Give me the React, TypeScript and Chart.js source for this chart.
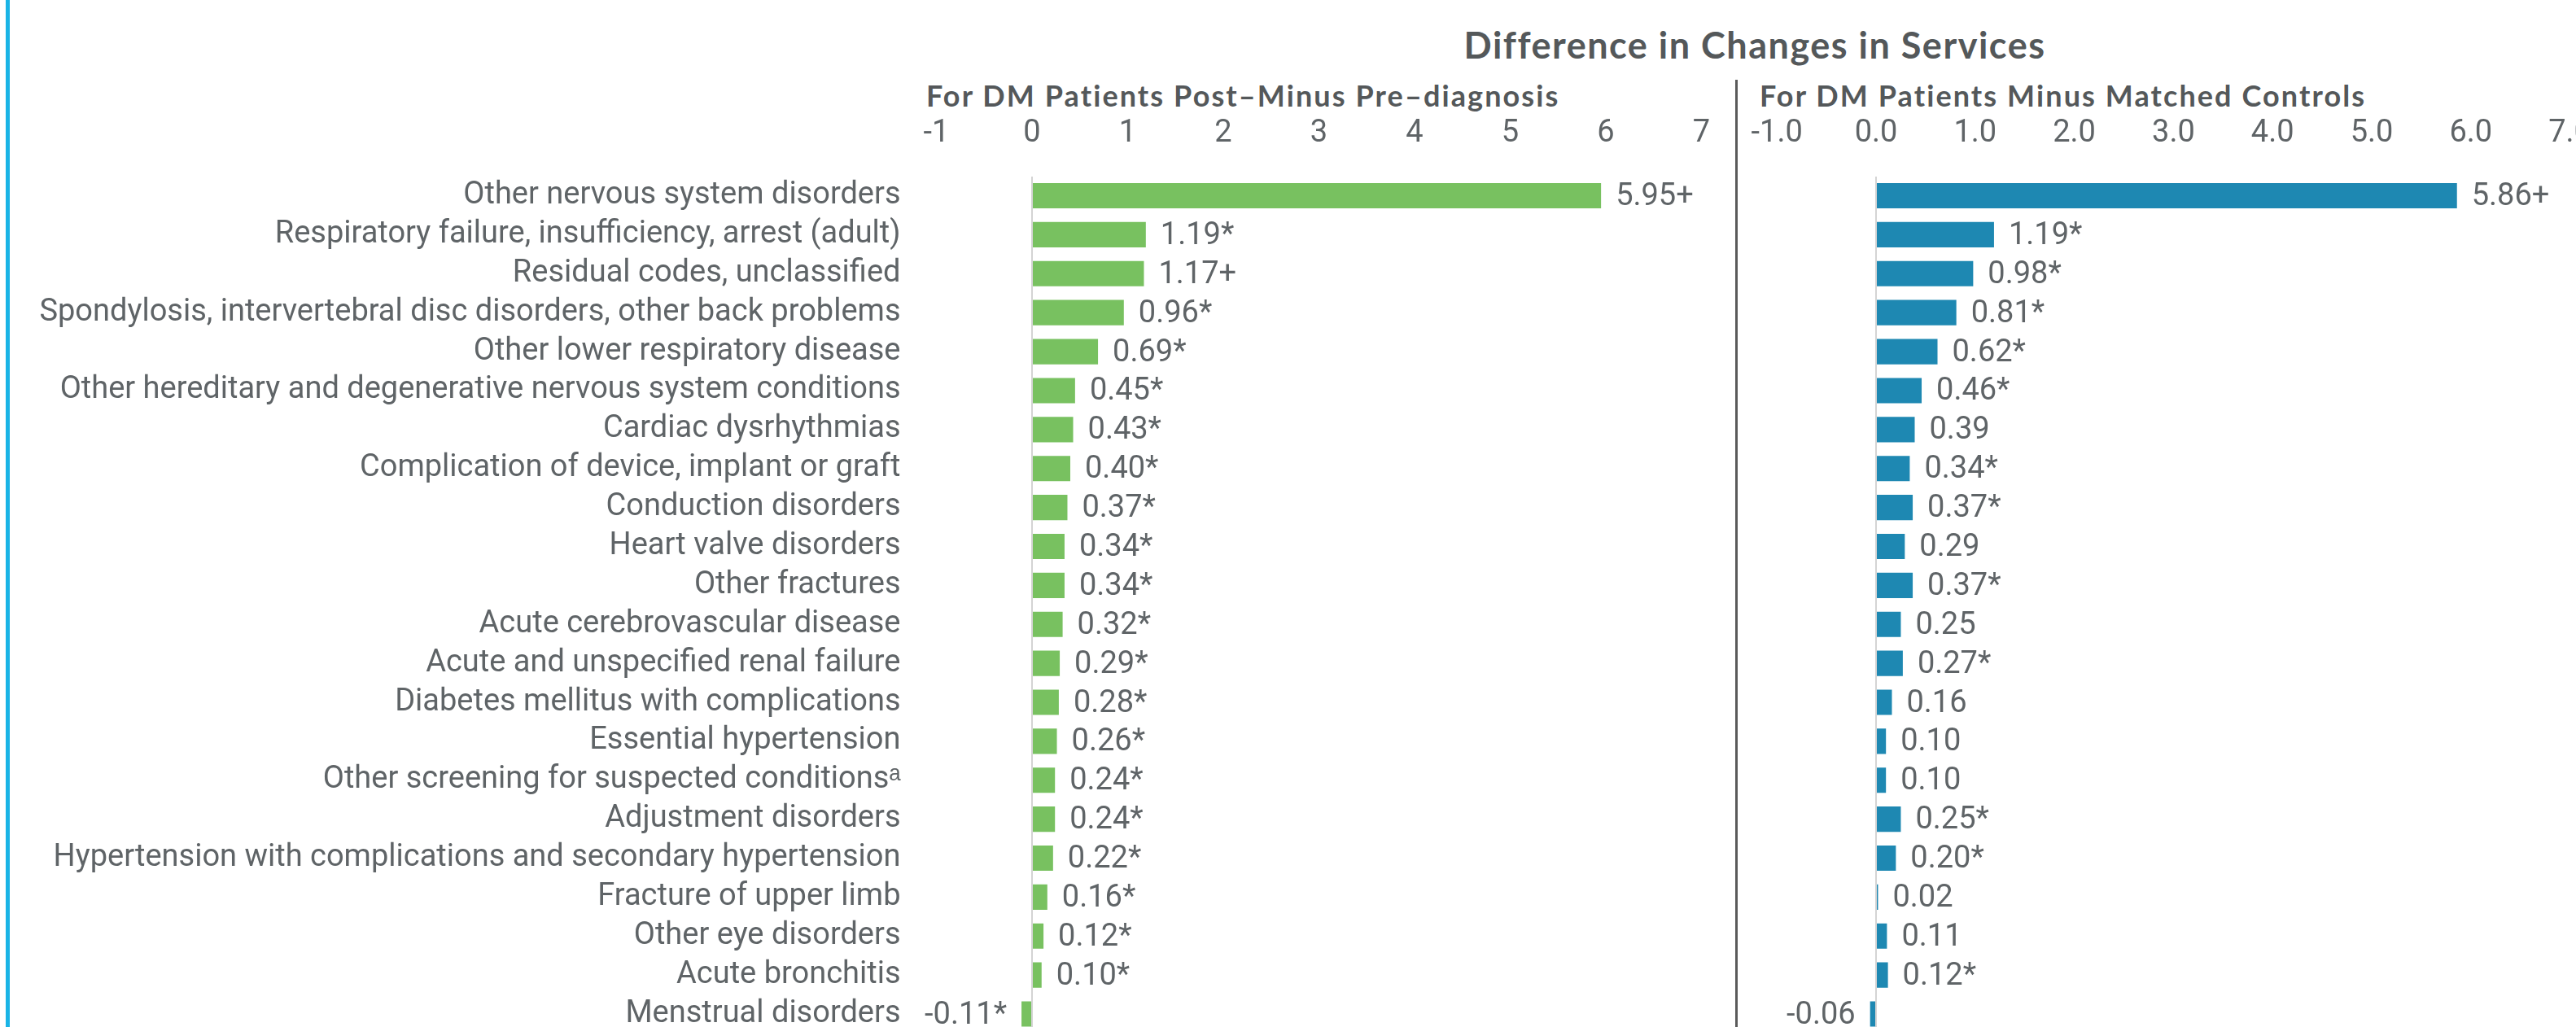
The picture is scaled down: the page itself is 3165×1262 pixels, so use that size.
import React, { useEffect, useRef } from "react";
import { Chart, registerables } from "chart.js";

Chart.register(...registerables);

const categories = [
  "Other nervous system disorders",
  "Respiratory failure, insufficiency, arrest (adult)",
  "Residual codes, unclassified",
  "Spondylosis, intervertebral disc disorders, other back problems",
  "Other lower respiratory disease",
  "Other hereditary and degenerative nervous system conditions",
  "Cardiac dysrhythmias",
  "Complication of device, implant or graft",
  "Conduction disorders",
  "Heart valve disorders",
  "Other fractures",
  "Acute cerebrovascular disease",
  "Acute and unspecified renal failure",
  "Diabetes mellitus with complications",
  "Essential hypertension",
  "Other screening for suspected conditions\u1d43",
  "Adjustment disorders",
  "Hypertension with complications and secondary hypertension",
  "Fracture of upper limb",
  "Other eye disorders",
  "Acute bronchitis",
  "Menstrual disorders",
];

const prePostValues = [5.95, 1.19, 1.17, 0.96, 0.69, 0.45, 0.43, 0.4, 0.37, 0.34, 0.34, 0.32, 0.29, 0.28, 0.26, 0.24, 0.24, 0.22, 0.16, 0.12, 0.1, -0.11];
const prePostMarks = ["+", "*", "+", "*", "*", "*", "*", "*", "*", "*", "*", "*", "*", "*", "*", "*", "*", "*", "*", "*", "*", "*"];

const controlValues = [5.86, 1.19, 0.98, 0.81, 0.62, 0.46, 0.39, 0.34, 0.37, 0.29, 0.37, 0.25, 0.27, 0.16, 0.1, 0.1, 0.25, 0.2, 0.02, 0.11, 0.12, -0.06];
const controlMarks = ["+", "*", "*", "*", "*", "*", "", "*", "*", "", "*", "", "*", "", "", "", "*", "*", "", "", "*", ""];

const leftTicks = [-1, 0, 1, 2, 3, 4, 5, 6, 7];
const rightTicks = [-1, 0, 1, 2, 3, 4, 5, 6, 7];

const mainTitle = "Difference in Changes in Services";
const leftTitle = "For DM Patients Post\u2013Minus Pre\u2013diagnosis";
const rightTitle = "For DM Patients Minus Matched Controls";

const NARROW = "Roboto, 'Liberation Sans', sans-serif";
const BOLD = "Lato, 'Open Sans', sans-serif";
const TEXT = "#5f6467";
const GREEN = "#78c160";
const BLUE = "#1e88b2";
const FONT_SIZE = 38;
const AREA_TOP = 216.6;
const CANVAS_H = 1270;

const valueLabels = {
  id: "valueLabels",
  afterDatasetsDraw(chart: any, _args: any, opts: any) {
    const ctx = chart.ctx;
    const meta = chart.getDatasetMeta(0);
    const ds = chart.data.datasets[0];
    ctx.save();
    ctx.font = `${FONT_SIZE}px ${NARROW}`;
    ctx.fillStyle = TEXT;
    ctx.textBaseline = "middle";
    meta.data.forEach((bar: any, i: number) => {
      const v = ds.data[i] as number;
      const txt = v.toFixed(2) + (opts.marks[i] || "");
      if (v >= 0) {
        ctx.textAlign = "left";
        ctx.fillText(txt, bar.x + 18, bar.y + 2);
      } else {
        ctx.textAlign = "right";
        ctx.fillText(txt, bar.x - 18, bar.y + 2);
      }
    });
    ctx.restore();
  },
};

function makeConfig(values: number[], marks: string[], color: string, ticks: number[], decimals: number, showLabels: boolean, yWidth: number, padLeft: number, padRight: number): any {
  return {
    type: "bar",
    data: {
      labels: categories,
      datasets: [
        {
          data: values,
          backgroundColor: color,
          borderWidth: 0,
          barPercentage: 1,
          categoryPercentage: 0.65,
        },
      ],
    },
    plugins: [valueLabels],
    options: {
      indexAxis: "y",
      animation: false,
      responsive: false,
      maintainAspectRatio: false,
      layout: { padding: { left: padLeft, right: padRight, top: 0, bottom: 0 } },
      plugins: {
        legend: { display: false },
        tooltip: { enabled: false },
        title: { display: false },
        valueLabels: { marks },
      },
      scales: {
        x: {
          type: "linear",
          position: "top",
          min: ticks[0],
          max: ticks[ticks.length - 1],
          afterBuildTicks: (scale: any) => {
            scale.ticks = ticks.map((t) => ({ value: t }));
          },
          afterFit: (scale: any) => {
            scale.height = AREA_TOP;
            scale.paddingLeft = 0;
            scale.paddingRight = 0;
          },
          border: { display: false },
          grid: {
            display: true,
            drawTicks: false,
            lineWidth: 2,
            color: (c: any) => (c.tick && c.tick.value === 0 ? "#d4d4d4" : "rgba(0,0,0,0)"),
          },
          ticks: {
            padding: 29,
            color: TEXT,
            font: { family: NARROW, size: FONT_SIZE },
            maxRotation: 0,
            autoSkip: false,
            callback: (v: any) => Number(v).toFixed(decimals),
          },
        },
        y: {
          type: "category",
          display: showLabels ? true : false,
          afterFit: (scale: any) => {
            if (showLabels) scale.width = yWidth;
            scale.paddingTop = 0;
            scale.paddingBottom = 0;
          },
          border: { display: false },
          grid: { display: false, drawTicks: false },
          ticks: {
            padding: 44,
            color: TEXT,
            font: { family: NARROW, size: FONT_SIZE },
            autoSkip: false,
          },
        },
      },
    },
  };
}

function Panel(props: { left: number; width: number; cfg: any }) {
  const ref = useRef<HTMLCanvasElement>(null);
  useEffect(() => {
    const chart = new Chart(ref.current as HTMLCanvasElement, props.cfg);
    return () => chart.destroy();
  }, []);
  return (
    <canvas
      ref={ref}
      width={props.width}
      height={CANVAS_H}
      style={{ position: "absolute", left: props.left, top: 0, width: props.width, height: CANVAS_H }}
    />
  );
}

export default function App() {
  const leftCfg = makeConfig(prePostValues, prePostMarks, GREEN, leftTicks, 0, true, 1150.5, 0, 29.5);
  const rightCfg = makeConfig(controlValues, controlMarks, BLUE, rightTicks, 1, false, 0, 43.2, 7.4);
  return (
    <div style={{ position: "fixed", left: 0, top: 0, width: 3165, height: 1262, overflow: "hidden", background: "#fff" }}>
      <div style={{ position: "absolute", left: 7, top: 0, width: 5, height: 1262, background: "#19b4e6" }} />
      <div
        style={{
          position: "absolute",
          left: 2156,
          top: 33,
          transform: "translateX(-50%)",
          whiteSpace: "nowrap",
          fontFamily: BOLD,
          fontWeight: 700,
          fontSize: 45,
          lineHeight: "45px",
          letterSpacing: 1.5,
          color: "#54585a",
        }}
      >
        {mainTitle}
      </div>
      <div
        style={{
          position: "absolute",
          left: 1138,
          top: 99,
          whiteSpace: "nowrap",
          fontFamily: BOLD,
          fontWeight: 700,
          fontSize: 36,
          lineHeight: "36px",
          letterSpacing: 2.1,
          color: "#54585a",
        }}
      >
        {leftTitle}
      </div>
      <div
        style={{
          position: "absolute",
          left: 2162,
          top: 99,
          whiteSpace: "nowrap",
          fontFamily: BOLD,
          fontWeight: 700,
          fontSize: 36,
          lineHeight: "36px",
          letterSpacing: 2.1,
          color: "#54585a",
        }}
      >
        {rightTitle}
      </div>
      <div style={{ position: "absolute", left: 2132, top: 98, width: 3, height: 1200, background: "#5a5a5a" }} />
      <Panel left={0} width={2120} cfg={leftCfg} />
      <Panel left={2140} width={1025} cfg={rightCfg} />
    </div>
  );
}
